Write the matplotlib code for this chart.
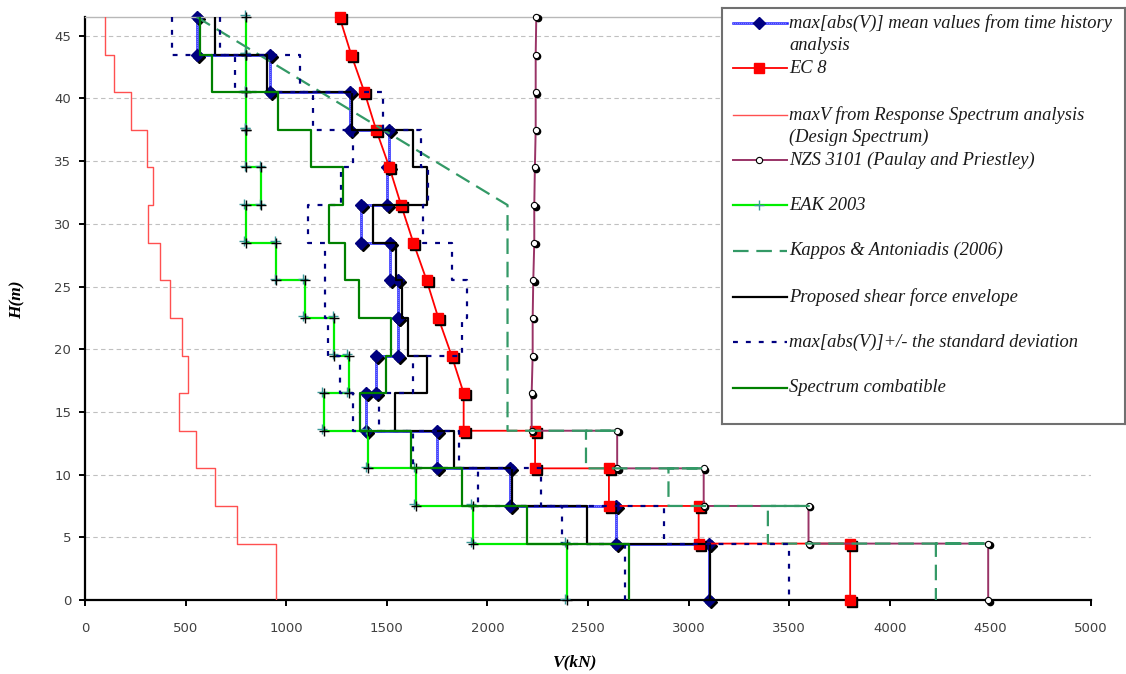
import matplotlib
matplotlib.use("Agg")
import matplotlib.pyplot as plt
from matplotlib import transforms

# storey levels (m), top to bottom
levels = [46.5, 43.5, 40.5, 37.5, 34.5, 31.5, 28.5, 25.5, 22.5, 19.5, 16.5, 13.5, 10.5, 7.5, 4.5, 0]

# shear force per storey (kN), top storey first
mean_v = [555, 918, 1315, 1510, 1500, 1372, 1518, 1554, 1554, 1447, 1397, 1748, 2110, 2637, 3100]
std_plus = [670, 1070, 1483, 1670, 1703, 1680, 1826, 1898, 1873, 1628, 1460, 1857, 2265, 2877, 3500]
std_minus = [430, 744, 1135, 1334, 1273, 1107, 1195, 1195, 1207, 1265, 1331, 1628, 1951, 2372, 2683]
rs_v = [99, 144, 227, 306, 339, 314, 372, 422, 484, 512, 466, 554, 645, 755, 947]
eak_v = [802, 802, 802, 802, 876, 800, 951, 1091, 1240, 1311, 1187, 1405, 1645, 1926, 2395]
proposed_v = [648, 905, 1327, 1628, 1699, 1430, 1545, 1575, 1604, 1699, 1543, 1835, 2124, 2497, 3108]
spectrum_v = [570, 632, 959, 1124, 1281, 1215, 1290, 1364, 1521, 1497, 1368, 1620, 1874, 2199, 2703]

# EC 8 points
ec8_v = [1265, 1323, 1389, 1447, 1513, 1571, 1632, 1698, 1756, 1822, 1882, 1882,
         2237, 2237, 2604, 2604, 3050, 3050, 3803, 3803]
ec8_h = [46.5, 43.5, 40.5, 37.5, 34.5, 31.5, 28.5, 25.5, 22.5, 19.5, 16.5, 13.5,
         13.5, 10.5, 10.5, 7.5, 7.5, 4.5, 4.5, 0]

# NZS 3101 points
nzs_v = [2243, 2240, 2240, 2240, 2236, 2233, 2233, 2228, 2225, 2225, 2220, 2220,
         2645, 2645, 3075, 3075, 3596, 3596, 4489, 4489]
nzs_h = [46.5, 43.5, 40.5, 37.5, 34.5, 31.5, 28.5, 25.5, 22.5, 19.5, 16.5, 13.5,
         13.5, 10.5, 10.5, 7.5, 7.5, 4.5, 4.5, 0]

# Kappos & Antoniadis (2006) points
kappos_v = [555, 2100, 2100, 2645, 2490, 2490, 3075, 2900, 2900, 3596, 3394, 3394, 4489, 4229, 4229]
kappos_h = [46.5, 31.5, 13.5, 13.5, 13.5, 10.5, 10.5, 10.5, 7.5, 7.5, 7.5, 4.5, 4.5, 4.5, 0]

legend_labels = [
    "max[abs(V)] mean values from time history\nanalysis",
    "EC 8",
    "maxV from Response Spectrum analysis\n(Design Spectrum)",
    "NZS 3101 (Paulay and Priestley)",
    "EAK 2003",
    "Kappos & Antoniadis (2006)",
    "Proposed shear force envelope",
    "max[abs(V)]+/- the standard deviation",
    "Spectrum combatible",
]


def steps(vals):
    xs, ys = [], []
    for i, v in enumerate(vals):
        xs += [v, v]
        ys += [levels[i], levels[i + 1]]
    return xs, ys


fig = plt.figure(figsize=(11.26, 6.74), dpi=100)
ax = fig.add_axes([85 / 1126, 74 / 674, 1006 / 1126, 583 / 674])


def shifted(axis, dx, dy):
    return transforms.offset_copy(axis.transData, fig=fig, x=dx, y=dy, units="dots")


blue = "#2020ff"
navy = "#000080"
kappos_c = "#339966"
nzs_c = "#993366"
lime = "#00ee00"
dgreen = "#008000"
std_dash = (0, (2.2, 3.6))
kappos_dash = (0, (7, 3.5))

# mean values
x, y = steps(mean_v)
ax.plot(x, y, color=blue, lw=1.8, zorder=2)
ax.plot(x, y, color="white", lw=0.6, ls=(0, (0.8, 1.6)), zorder=2.01)
ax.plot(x, y, ls="none", marker="D", ms=6.5, color="black", transform=shifted(ax, 2, -2),
        zorder=2.02, clip_on=False)
ax.plot(x, y, ls="none", marker="D", ms=6.5, mfc=navy, mec=navy, zorder=2.03, clip_on=False)

# EC 8
ax.plot(ec8_v, ec8_h, color="red", lw=1.3, zorder=3)
ax.plot(ec8_v, ec8_h, ls="none", marker="s", ms=7.5, color="black", transform=shifted(ax, 2, -2),
        zorder=3.01, clip_on=False)
ax.plot(ec8_v, ec8_h, ls="none", marker="s", ms=7.5, mfc="red", mec="red", zorder=3.02, clip_on=False)

# response spectrum
x, y = steps(rs_v)
ax.plot(x, y, color="#ff5050", lw=1.0, zorder=4)

# NZS 3101
ax.plot(nzs_v, nzs_h, color=nzs_c, lw=1.4, zorder=5)
ax.plot(nzs_v, nzs_h, ls="none", marker="o", ms=4.5, color="black", transform=shifted(ax, 1.5, -1.5),
        zorder=5.01, clip_on=False)
ax.plot(nzs_v, nzs_h, ls="none", marker="o", ms=4.5, mfc="white", mec="black", mew=0.8,
        zorder=5.02, clip_on=False)

# EAK 2003
x, y = steps(eak_v)
ax.plot(x, y, color=lime, lw=1.6, zorder=6)
ax.plot(x, y, ls="none", marker="+", ms=7, mew=1, color="#3a9a9a", transform=shifted(ax, -1.5, 1.5),
        zorder=6.01, clip_on=False)
ax.plot(x, y, ls="none", marker="+", ms=7, mew=1, color="black", zorder=6.02, clip_on=False)

# Kappos & Antoniadis
ax.plot(kappos_v, kappos_h, color=kappos_c, lw=1.6, ls=kappos_dash, zorder=7)

# proposed envelope
x, y = steps(proposed_v)
ax.plot(x, y, color="black", lw=1.6, zorder=8)

# mean +/- standard deviation
x, y = steps(std_plus)
ax.plot(x, y, color=navy, lw=1.6, ls=std_dash, zorder=9)
x, y = steps(std_minus)
ax.plot(x, y, color=navy, lw=1.6, ls=std_dash, zorder=9)

# spectrum compatible
x, y = steps(spectrum_v)
ax.plot(x, y, color=dgreen, lw=1.6, zorder=10)

ax.set_xlim(0, 5000)
ax.set_ylim(0, 46.5)
ax.set_xticks(range(0, 5001, 500))
ax.set_yticks(range(0, 46, 5))
ax.set_axisbelow(True)
ax.yaxis.grid(True, ls=(0, (4, 3)), color="#c0c0c0", lw=0.8)
ax.spines["right"].set_visible(False)
ax.spines["top"].set_color("#b8b8b8")
ax.spines["top"].set_linewidth(1)
for s in ("left", "bottom"):
    ax.spines[s].set_linewidth(1.6)
    ax.spines[s].set_color("black")
ax.tick_params(axis="both", direction="out", length=4, width=1.4, colors="black",
               labelcolor="#404040", labelsize=9.5)
ax.tick_params(axis="x", pad=12)
ax.tick_params(axis="y", pad=6)

lab_font = dict(family="Liberation Serif", style="italic", weight="bold", size=12.5)
ax.set_xlabel("V(kN)", **lab_font)
ax.set_ylabel("H(m)", **lab_font)
ax.xaxis.set_label_coords(0.487, -0.094)
ax.yaxis.set_label_coords(-0.059, 0.515)

# legend box
lax = fig.add_axes([722 / 1126, (674 - 424) / 674, 403 / 1126, 416 / 674])
lax.set_xlim(0, 403)
lax.set_ylim(416, 0)
lax.set_xticks([])
lax.set_yticks([])
for s in lax.spines.values():
    s.set_color("#707070")
    s.set_linewidth(1.5)

rows = [15.3, 60.3, 107, 152.3, 197, 242.7, 288.7, 334.3, 379.7]
hx = [11, 65]
mx = [37]
r = rows
lax.plot(hx, [r[0]] * 2, color=blue, lw=1.8)
lax.plot(hx, [r[0]] * 2, color="white", lw=0.6, ls=(0, (0.8, 1.6)))
lax.plot(mx, [r[0]], marker="D", ms=6.5, color=navy)
lax.plot(hx, [r[1]] * 2, color="red", lw=1.3)
lax.plot(mx, [r[1]], marker="s", ms=7.5, color="red")
lax.plot(hx, [r[2]] * 2, color="#ff5050", lw=1.0)
lax.plot(hx, [r[3]] * 2, color=nzs_c, lw=1.4)
lax.plot(mx, [r[3]], marker="o", ms=4.5, mfc="white", mec="black", mew=0.8)
lax.plot(hx, [r[4]] * 2, color=lime, lw=1.6)
lax.plot(mx, [r[4]], marker="+", ms=7, mew=1, color="#3a9a9a")
lax.plot(hx, [r[5]] * 2, color=kappos_c, lw=1.6, ls=kappos_dash)
lax.plot(hx, [r[6]] * 2, color="black", lw=1.6)
lax.plot(hx, [r[7]] * 2, color=navy, lw=1.6, ls=std_dash)
lax.plot(hx, [r[8]] * 2, color=dgreen, lw=1.6)

leg_font = dict(family="Liberation Serif", style="italic", size=13.3, color="#1a1a1a")
for yy, lab in zip(rows, legend_labels):
    for k, line in enumerate(lab.split("\n")):
        lax.text(67, yy + 22 * k, line, va="center", ha="left", **leg_font)

fig.savefig("out.png", dpi=100)
